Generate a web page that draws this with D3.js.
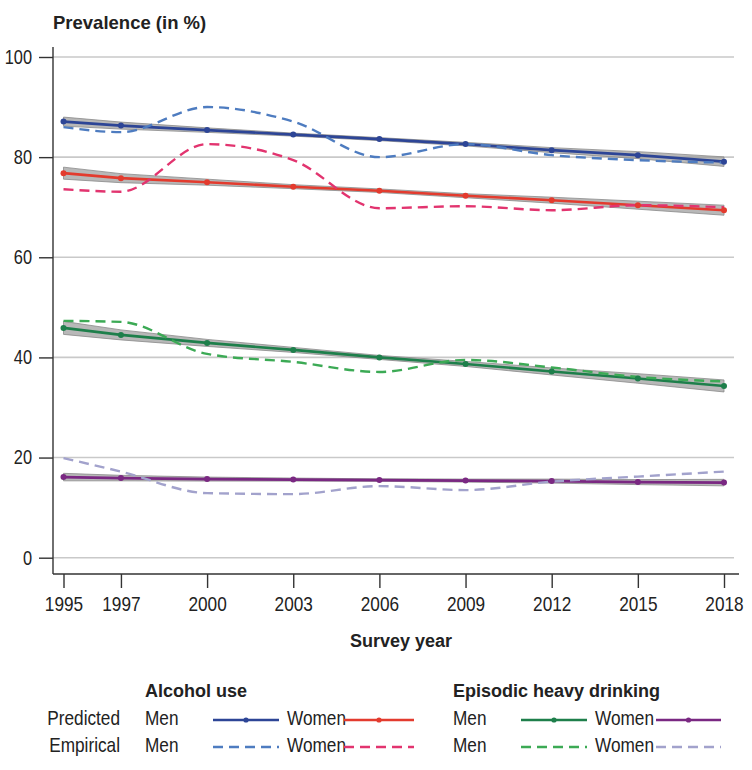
<!DOCTYPE html>
<html>
<head>
<meta charset="utf-8">
<script src="https://cdn.jsdelivr.net/npm/d3@7"></script>
<style>
  body { margin: 0; background: #fff; }
  text { fill: #222; font-family: "Liberation Sans", Arial, sans-serif; }
  .bold { font-weight: bold; }
</style>
</head>
<body>
<svg class="chart"></svg>
<script>
var WIDTH = 752, HEIGHT = 770;
var NARROW = 0.82; // horizontal squeeze to mimic a condensed face

var years = [1995, 1997, 2000, 2003, 2006, 2009, 2012, 2015, 2018];
var yTicks = [0, 20, 40, 60, 80, 100];

// predicted (model) values
var predAlcMen   = [87.1, 86.3, 85.4, 84.5, 83.6, 82.6, 81.4, 80.4, 79.1];
var predAlcWomen = [76.8, 75.8, 75.0, 74.1, 73.3, 72.3, 71.4, 70.4, 69.4];
var predEhdMen   = [45.9, 44.5, 42.9, 41.5, 40.0, 38.7, 37.2, 35.8, 34.3];
var predEhdWomen = [16.1, 15.9, 15.7, 15.6, 15.5, 15.4, 15.3, 15.1, 15.0];

// half width of the confidence band around the predicted lines
var ciAlcMen   = [0.9, 0.7, 0.45, 0.3, 0.3, 0.35, 0.5, 0.7, 0.95];
var ciAlcWomen = [1.2, 0.9, 0.6, 0.4, 0.35, 0.4, 0.6, 0.8, 1.0];
var ciEhdMen   = [1.3, 1.0, 0.7, 0.5, 0.4, 0.5, 0.7, 0.95, 1.2];
var ciEhdWomen = [0.75, 0.55, 0.4, 0.3, 0.25, 0.3, 0.4, 0.5, 0.65];

// empirical values
var empAlcMen   = [86.0, 85.0, 90.0, 87.1, 80.0, 82.6, 80.4, 79.4, 78.9];
var empAlcWomen = [73.6, 73.1, 82.6, 79.4, 69.8, 70.2, 69.4, 70.4, 70.0];
var empEhdMen   = [47.3, 47.1, 40.7, 39.1, 37.1, 39.5, 38.0, 36.1, 35.2];
var empEhdWomen = [19.9, 17.2, 12.9, 12.7, 14.3, 13.5, 15.2, 16.2, 17.2];

var predicted = [
	{ values: predAlcMen,   ci: ciAlcMen,   color: "#2d4596" },
	{ values: predAlcWomen, ci: ciAlcWomen, color: "#e33b2e" },
	{ values: predEhdMen,   ci: ciEhdMen,   color: "#1e7f4b" },
	{ values: predEhdWomen, ci: ciEhdWomen, color: "#7a2882" }
];
var empirical = [
	{ values: empAlcMen,   color: "#4e7cc0" },
	{ values: empAlcWomen, color: "#e2346f" },
	{ values: empEhdMen,   color: "#3caa55" },
	{ values: empEhdWomen, color: "#a2a2cc" }
];

var svg = d3.select(".chart").attr("width", WIDTH).attr("height", HEIGHT);

var x = d3.scaleLinear().domain([1995, 2018]).range([63.5, 724]);
var y = d3.scaleLinear().domain([0, 100]).range([557.7, 57]);

// gridlines
svg.append("g").selectAll("line").data(yTicks).enter().append("line")
	.attr("x1", 53).attr("x2", 734)
	.attr("y1", d => y(d)).attr("y2", d => y(d))
	.attr("stroke", "#c9c9c9").attr("stroke-width", 1.6);

// y axis
var yAxis = svg.append("g").attr("transform", "translate(53,0)")
	.call(d3.axisLeft(y).tickValues(yTicks).tickSize(14).tickPadding(4));
yAxis.select(".domain").attr("d", "M0,47V574");
// x axis
var xAxis = svg.append("g").attr("transform", "translate(0,574)")
	.call(d3.axisBottom(x).tickValues(years).tickFormat(d3.format("d")).tickSize(14).tickPadding(8));
xAxis.select(".domain").attr("d", "M53,0H739");

[yAxis, xAxis].forEach(a => {
	a.selectAll("path, line").attr("stroke", "#333").attr("stroke-width", 1.4);
	a.selectAll("text").attr("fill", "#222").attr("font-family", null)
		.attr("transform", "scale(" + NARROW + ",1)");
});
yAxis.selectAll("text").attr("font-size", 20).attr("x", -21 / NARROW);
xAxis.selectAll("text").attr("font-size", 21);

// titles
svg.append("text").attr("class", "bold").attr("x", 53).attr("y", 29).attr("font-size", 18.5).text("Prevalence (in %)");
svg.append("text").attr("class", "bold").attr("x", 401).attr("y", 647).attr("text-anchor", "middle").attr("font-size", 18).text("Survey year");

// confidence bands
var area = d3.area().x((d, i) => x(years[i])).y0(d => y(d[0])).y1(d => y(d[1]));
svg.append("g").selectAll("path").data(predicted).enter().append("path")
	.attr("d", s => area(s.values.map((v, i) => [v - s.ci[i], v + s.ci[i]])))
	.attr("fill", "#9a9a9a").attr("fill-opacity", 0.7)
	.attr("stroke", "#8a8a8a").attr("stroke-width", 0.8);

// predicted lines
var line = d3.line().x((d, i) => x(years[i])).y(d => y(d));
svg.append("g").selectAll("path").data(predicted).enter().append("path")
	.attr("d", s => line(s.values))
	.attr("fill", "none").attr("stroke", s => s.color).attr("stroke-width", 2.6);

// empirical lines
var smooth = d3.line().x((d, i) => x(years[i])).y(d => y(d)).curve(d3.curveMonotoneX);
svg.append("g").selectAll("path").data(empirical).enter().append("path")
	.attr("d", s => smooth(s.values))
	.attr("fill", "none").attr("stroke", s => s.color).attr("stroke-width", 2.4)
	.attr("stroke-dasharray", "10,6");

// markers on predicted lines
var dots = svg.append("g").selectAll("g").data(predicted).enter().append("g");
dots.selectAll("circle").data(s => s.values.map(v => ({ v: v, color: s.color }))).enter().append("circle")
	.attr("cx", (d, i) => x(years[i])).attr("cy", d => y(d.v)).attr("r", 3)
	.attr("fill", d => d.color);

// legend
var legend = svg.append("g");
legend.append("text").attr("class", "bold").attr("x", 145).attr("y", 697).attr("font-size", 18).text("Alcohol use");
legend.append("text").attr("class", "bold").attr("x", 453).attr("y", 697).attr("font-size", 18).text("Episodic heavy drinking");

function narrowText(tx, ty, str, anchor) {
	legend.append("text").attr("transform", "translate(" + tx + "," + ty + ") scale(" + NARROW + ",1)")
		.attr("text-anchor", anchor || "start").attr("font-size", 21).text(str);
}

var rows = [
	{ label: "Predicted", y: 725, items: predicted, dashed: false },
	{ label: "Empirical", y: 752, items: empirical, dashed: true }
];
var slots = [
	{ tx: 145, text: "Men",   x1: 213, x2: 279 },
	{ tx: 287, text: "Women", x1: 344, x2: 414 },
	{ tx: 453, text: "Men",   x1: 521, x2: 587 },
	{ tx: 595, text: "Women", x1: 656, x2: 721 }
];
rows.forEach(r => {
	narrowText(120, r.y, r.label, "end");
	slots.forEach((s, i) => {
		narrowText(s.tx, r.y, s.text);
		var ly = r.y - 5;
		legend.append("line").attr("x1", s.x1).attr("x2", s.x2).attr("y1", ly).attr("y2", ly)
			.attr("stroke", r.items[i].color).attr("stroke-width", r.dashed ? 2.4 : 2.6)
			.attr("stroke-dasharray", r.dashed ? "10,6" : null);
		if (!r.dashed)
			legend.append("circle").attr("cx", (s.x1 + s.x2) / 2).attr("cy", ly).attr("r", 2.6)
				.attr("fill", r.items[i].color);
	});
});
</script>
</body>
</html>
